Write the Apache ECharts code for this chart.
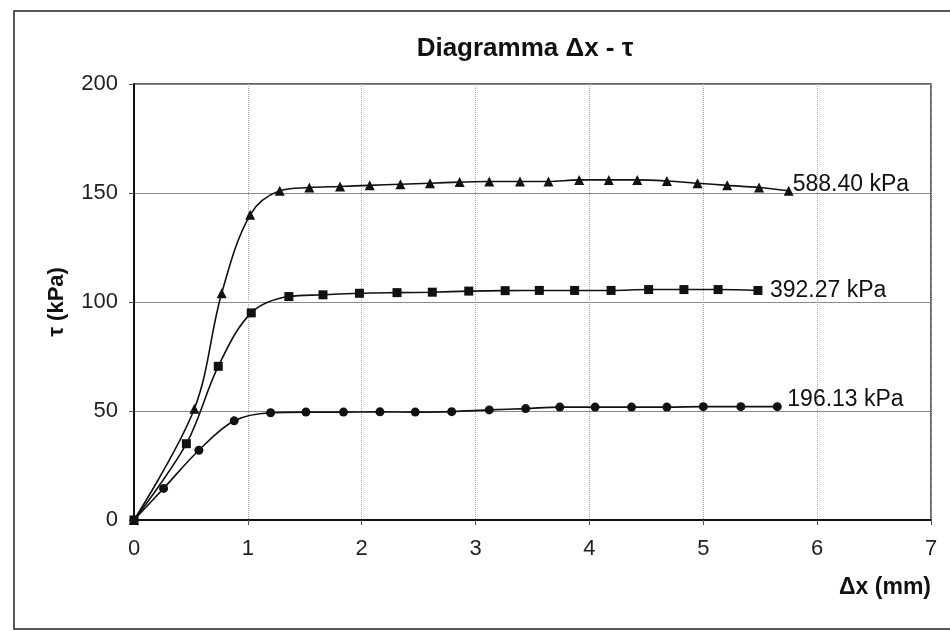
<!DOCTYPE html>
<html>
<head>
<meta charset="utf-8">
<script src="https://cdn.jsdelivr.net/npm/echarts@6/dist/echarts.min.js"></script>
<style>
  html, body { margin: 0; padding: 0; background: #fff; }
  #chart { width: 950px; height: 631px; }
</style>
</head>
<body>
<div id="chart"></div>
<script>
// Δx (mm) / τ (kPa)
const dx588 = [0, 0.53, 0.77, 1.02, 1.28, 1.54, 1.81, 2.07, 2.34, 2.60, 2.86, 3.12, 3.39, 3.64, 3.91, 4.17, 4.42, 4.68, 4.95, 5.21, 5.49, 5.75];
const tau588 = [0, 51, 104, 140, 151, 152.5, 153, 153.5, 154, 154.5, 155, 155.3, 155.3, 155.3, 156, 156, 156, 155.5, 154.5, 153.5, 152.5, 151];

const dx392 = [0, 0.46, 0.74, 1.03, 1.36, 1.66, 1.98, 2.31, 2.62, 2.94, 3.26, 3.56, 3.87, 4.19, 4.52, 4.83, 5.13, 5.48];
const tau392 = [0, 35, 70.5, 95, 102.5, 103.3, 104, 104.3, 104.5, 105, 105.2, 105.3, 105.3, 105.3, 105.7, 105.7, 105.7, 105.3];

const dx196 = [0, 0.26, 0.57, 0.88, 1.20, 1.51, 1.84, 2.16, 2.47, 2.79, 3.12, 3.44, 3.74, 4.05, 4.37, 4.68, 5.0, 5.33, 5.65];
const tau196 = [0, 14.5, 32, 45.5, 49.2, 49.5, 49.5, 49.6, 49.5, 49.7, 50.5, 51.1, 51.8, 51.8, 51.8, 51.8, 52, 52, 52];

const seriesNames = ['588.40 kPa', '392.27 kPa', '196.13 kPa'];

const font = 'Arial, "Liberation Sans", sans-serif';

function pairs(xs, ys) {
  return xs.map((x, i) => [x, ys[i]]);
}

function makeSeries(name, data, symbol, size, labelOffset) {
  return {
    name,
    type: 'line',
    data,
    smooth: 0.35,
    symbol,
    symbolSize: size,
    itemStyle: { color: '#111' },
    lineStyle: { color: '#111', width: 1.6 },
    endLabel: {
      show: true,
      formatter: name,
      fontFamily: font,
      fontSize: 23,
      color: '#111',
      offset: labelOffset
    },
    animation: false
  };
}

const chart = echarts.init(document.getElementById('chart'));
chart.setOption({
  backgroundColor: '#fff',
  animation: false,
  title: {
    text: 'Diagramma Δx - τ',
    left: 520,
    textAlign: 'center',
    top: 31,
    textStyle: { fontFamily: font, fontSize: 26, fontWeight: 'bold', color: '#111' }
  },
  graphic: [{
    type: 'rect',
    shape: { x: 14, y: 11, width: 960, height: 618 },
    style: { fill: 'none', stroke: '#222', lineWidth: 1.5 },
    silent: true
  }],
  grid: {
    left: 134, right: 19, top: 84, bottom: 111,
    show: true, borderColor: '#333', borderWidth: 1.5
  },
  xAxis: {
    type: 'value',
    min: 0, max: 7, interval: 1,
    name: 'Δx (mm)',
    nameLocation: 'end',
    nameGap: 0,
    nameTextStyle: {
      fontFamily: font, fontSize: 23, fontWeight: 'bold', color: '#111',
      align: 'right', verticalAlign: 'top', padding: [56, 0, 0, 0]
    },
    axisLine: { lineStyle: { color: '#111', width: 2 } },
    axisTick: { length: 5, lineStyle: { color: '#555' } },
    axisLabel: { fontFamily: font, fontSize: 22, color: '#222', margin: 18 },
    splitLine: { show: true, lineStyle: { color: '#aaa', type: 'dotted', width: 1 } }
  },
  yAxis: {
    type: 'value',
    min: 0, max: 200, interval: 50,
    name: 'τ (kPa)',
    nameLocation: 'middle',
    nameGap: 66,
    nameRotate: 90,
    nameTextStyle: { fontFamily: font, fontSize: 22, fontWeight: 'bold', color: '#111' },
    axisLine: { show: true, lineStyle: { color: '#111', width: 2 } },
    axisTick: { show: true, length: 5, lineStyle: { color: '#555' } },
    axisLabel: { fontFamily: font, fontSize: 22, color: '#222', margin: 16 },
    splitLine: { show: true, lineStyle: { color: '#888', width: 1 } }
  },
  series: [
    makeSeries(seriesNames[0], pairs(dx588, tau588), 'triangle', 10, [-4, -6]),
    makeSeries(seriesNames[1], pairs(dx392, tau392), 'rect', 9, [4, 0]),
    makeSeries(seriesNames[2], pairs(dx196, tau196), 'circle', 9, [2, -7])
  ]
});
</script>
</body>
</html>
